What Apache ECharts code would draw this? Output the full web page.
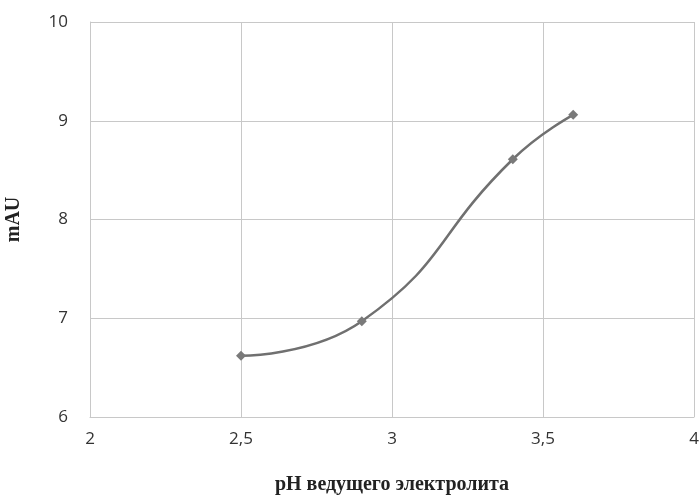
<!DOCTYPE html>
<html>
<head>
<meta charset="utf-8">
<script src="https://cdn.jsdelivr.net/npm/echarts@6/dist/echarts.min.js"></script>
<style>html,body{margin:0;padding:0;background:#fff;}#c{width:700px;height:498px;}</style>
</head>
<body>
<div id="c"></div>
<script>
const xValues = [2.5, 2.9, 3.4, 3.6];
const yValues = [6.62, 6.97, 8.61, 9.06];
const xTitle = 'pH ведущего электролита';
const yTitle = 'mAU';

const chart = echarts.init(document.getElementById('c'), null, {renderer: 'canvas'});
chart.setOption({
  animation: false,
  backgroundColor: '#fff',
  grid: {left: 90, right: 6, top: 22, bottom: 81, containLabel: false, outerBoundsMode: 'none'},
  xAxis: {
    type: 'value', min: 2, max: 4, interval: 0.5,
    name: xTitle, nameLocation: 'middle', nameGap: 58,
    nameTextStyle: {fontFamily: 'Liberation Serif', fontWeight: 'bold', fontSize: 20, color: '#222'},
    axisLine: {show: true, lineStyle: {color: '#c8c8c8', width: 1}},
    axisTick: {show: false},
    axisLabel: {fontFamily: 'Open Sans', fontSize: 17, color: '#333', margin: 14,
      formatter: v => String(v).replace('.', ',')},
    splitLine: {show: true, lineStyle: {color: '#c8c8c8', width: 1}}
  },
  yAxis: {
    type: 'value', min: 6, max: 10, interval: 1,
    name: yTitle, nameLocation: 'middle', nameGap: 66, nameRotate: 90,
    nameTextStyle: {fontFamily: 'Liberation Serif', fontWeight: 'bold', fontSize: 20, color: '#222'},
    axisLine: {show: true, lineStyle: {color: '#c8c8c8', width: 1}},
    axisTick: {show: false},
    axisLabel: {fontFamily: 'Open Sans', fontSize: 17, color: '#333', margin: 22},
    splitLine: {show: true, lineStyle: {color: '#c8c8c8', width: 1}}
  },
  series: [{
    type: 'line',
    data: xValues.map((x, i) => [x, yValues[i]]),
    smooth: 0.5,
    symbol: 'diamond',
    symbolSize: 10,
    lineStyle: {color: '#707070', width: 2.5},
    itemStyle: {color: '#7a7a7a'}
  }]
});
</script>
</body>
</html>
